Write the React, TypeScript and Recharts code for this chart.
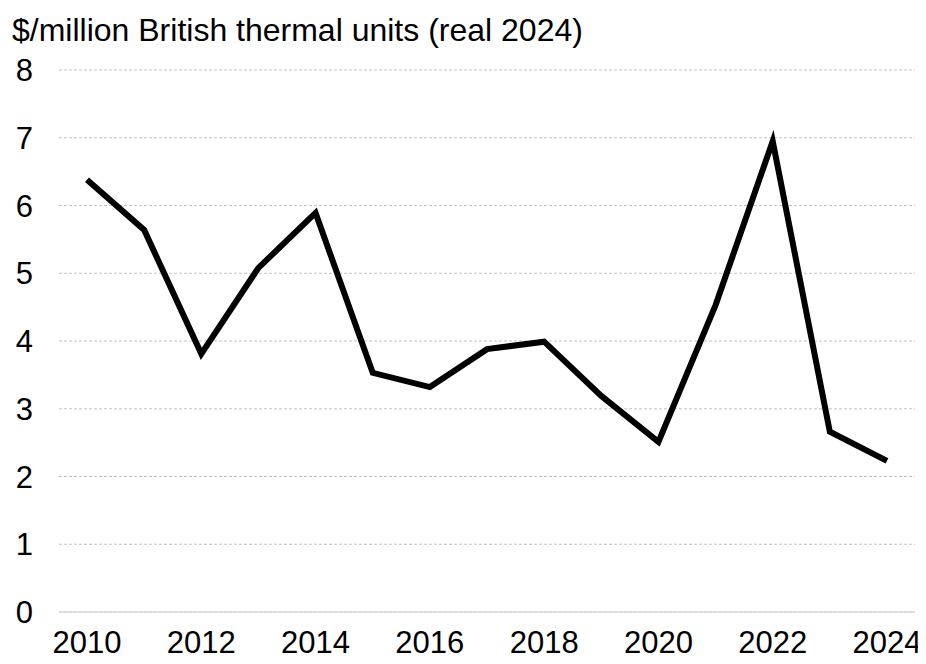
import { LineChart, Line, XAxis, YAxis, CartesianGrid } from 'recharts'

const years = ['2010', '2011', '2012', '2013', '2014', '2015', '2016', '2017', '2018', '2019', '2020', '2021', '2022', '2023', '2024']
const prices = [6.38, 5.64, 3.81, 5.08, 5.89, 3.53, 3.32, 3.88, 3.99, 3.19, 2.51, 4.53, 6.95, 2.66, 2.23]
const yTicks = [0, 1, 2, 3, 4, 5, 6, 7, 8]

const FONT = '"Liberation Sans", Arial, sans-serif'

export default function App() {
  const data = years.map((year, i) => ({ year, price: prices[i] }))

  return (
    <div style={{ position: 'relative', width: 918, height: 656, fontFamily: FONT }}>
      <div style={{ position: 'absolute', left: 4, top: 4, fontSize: 32, color: '#000', whiteSpace: 'nowrap' }}>
        $/million British thermal units (real 2024)
      </div>
      <LineChart width={918} height={656} data={data} margin={{ top: 62, right: 11, bottom: 0, left: 0 }}>
        <CartesianGrid vertical={false} stroke="#c4c4c4" strokeDasharray="3 2" />
        <XAxis dataKey="year" interval={1} height={52} tickSize={0} tickMargin={19}
          padding={{ left: 28, right: 28 }}
          axisLine={{ stroke: '#d9d9d9', strokeWidth: 1.5 }} tickLine={false}
          tick={{ fill: '#000', fontSize: 31, fontFamily: FONT }} />
        <YAxis domain={[0, 8]} ticks={yTicks} width={51} tickSize={0} tickMargin={26}
          axisLine={false} tickLine={false}
          tick={{ fill: '#000', fontSize: 31, fontFamily: FONT }} />
        <Line type="linear" dataKey="price" stroke="#000" strokeWidth={6} dot={false}
          strokeLinejoin="miter" isAnimationActive={false} />
      </LineChart>
    </div>
  )
}
